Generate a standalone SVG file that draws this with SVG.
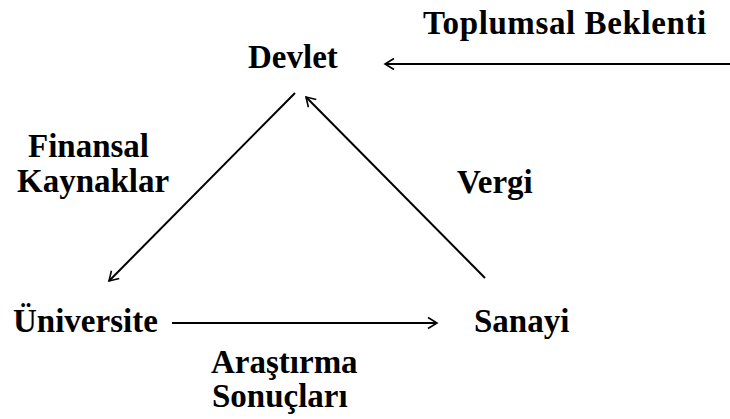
<svg xmlns="http://www.w3.org/2000/svg" width="730" height="419" viewBox="0 0 730 419">
<defs>
<marker id="ah" markerUnits="userSpaceOnUse" markerWidth="14" markerHeight="14" refX="11" refY="7" orient="auto">
<path d="M2,1.5 L11,7 L2,12.5" fill="none" stroke="#000" stroke-width="1.6"/>
</marker>
</defs>
<rect width="730" height="419" fill="#fff"/>
<g id="connectors" stroke="#000" stroke-width="2" fill="none">
<line x1="730" y1="64" x2="385" y2="64" marker-end="url(#ah)"/>
<line x1="295" y1="93" x2="109" y2="281" marker-end="url(#ah)"/>
<line x1="485" y1="278" x2="306" y2="97" marker-end="url(#ah)"/>
<line x1="172" y1="323" x2="437" y2="323" marker-end="url(#ah)"/>
</g>
<g id="devlet"><text x="248" y="68" style="font-family:'Liberation Serif';font-weight:bold;font-size:33px">Devlet</text></g>
<g id="toplumsal-beklenti"><text x="423" y="34" style="font-family:'Liberation Serif';font-weight:bold;font-size:33px;letter-spacing:0.6px">Toplumsal Beklenti</text></g>
<g id="universite"><text x="13" y="332" style="font-family:'Liberation Serif';font-weight:bold;font-size:33px">Üniversite</text></g>
<g id="sanayi"><text x="474" y="332" style="font-family:'Liberation Serif';font-weight:bold;font-size:33px">Sanayi</text></g>
<g id="label-finansal">
<text x="28" y="157" style="font-family:'Liberation Serif';font-weight:bold;font-size:33px">Finansal</text>
<text x="17" y="192" style="font-family:'Liberation Serif';font-weight:bold;font-size:33px">Kaynaklar</text>
</g>
<g id="label-vergi"><text x="457" y="193" style="font-family:'Liberation Serif';font-weight:bold;font-size:33px">Vergi</text></g>
<g id="label-arastirma">
<text x="211" y="373" style="font-family:'Liberation Serif';font-weight:bold;font-size:33px">Araştırma</text>
<text x="212" y="407" style="font-family:'Liberation Serif';font-weight:bold;font-size:33px">Sonuçları</text>
</g>
</svg>
